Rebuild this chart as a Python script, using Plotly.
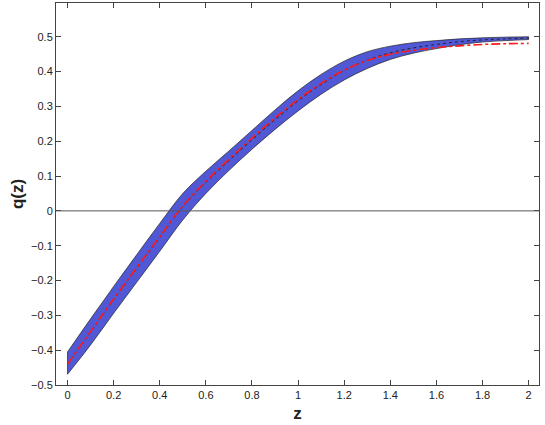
import plotly.graph_objects as go

# redshift grid and read-off values
z = [0.0, 0.1, 0.2, 0.3, 0.4, 0.5, 0.6, 0.7, 0.8, 0.9, 1.0,
     1.1, 1.2, 1.3, 1.4, 1.5, 1.6, 1.7, 1.8, 1.9, 2.0]

q_upper = [-0.405, -0.310, -0.217, -0.126, -0.036, 0.050, 0.114, 0.172, 0.231, 0.290, 0.345,
           0.392, 0.430, 0.457, 0.473, 0.483, 0.489, 0.494, 0.497, 0.499, 0.500]
q_lower = [-0.469, -0.385, -0.294, -0.205, -0.116, -0.026, 0.050, 0.116, 0.177, 0.234, 0.287,
           0.335, 0.376, 0.409, 0.435, 0.453, 0.466, 0.477, 0.485, 0.489, 0.492]
q_mean = [-0.440, -0.347, -0.255, -0.165, -0.076, 0.012, 0.082, 0.144, 0.204, 0.262, 0.316,
          0.363, 0.403, 0.433, 0.454, 0.468, 0.478, 0.486, 0.491, 0.494, 0.496]
q_fit = [-0.440, -0.346, -0.253, -0.163, -0.074, 0.014, 0.085, 0.148, 0.209, 0.267, 0.320,
         0.366, 0.404, 0.432, 0.450, 0.461, 0.469, 0.474, 0.478, 0.480, 0.481]

x_ticks = [0, 0.2, 0.4, 0.6, 0.8, 1, 1.2, 1.4, 1.6, 1.8, 2]
y_ticks = [-0.5, -0.4, -0.3, -0.2, -0.1, 0, 0.1, 0.2, 0.3, 0.4, 0.5]

AXIS = "#444444"
EDGE = "#222222"
FONT = "Liberation Sans, Arial, sans-serif"

fig = go.Figure()

# confidence band: lower edge, then upper edge filled down to it
fig.add_trace(go.Scatter(
    x=z, y=q_lower, mode="lines", line=dict(color=EDGE, width=0.7, shape="spline"),
    hoverinfo="skip", showlegend=False,
))
fig.add_trace(go.Scatter(
    x=z, y=q_upper, mode="lines", fill="tonexty", fillcolor="#5058d6",
    line=dict(color=EDGE, width=0.7, shape="spline"),
    hoverinfo="skip", showlegend=False,
))
# closing edges of the band at both ends
for i in (0, -1):
    fig.add_trace(go.Scatter(
        x=[z[i], z[i]], y=[q_lower[i], q_upper[i]], mode="lines",
        line=dict(color=EDGE, width=0.7), hoverinfo="skip", showlegend=False,
    ))
fig.add_trace(go.Scatter(
    x=z, y=q_mean, mode="lines",
    line=dict(color=EDGE, width=1, dash="dot", shape="spline"),
    showlegend=False,
))
fig.add_trace(go.Scatter(
    x=z, y=q_fit, mode="lines",
    line=dict(color="#ff1a1a", width=1.6, dash="dashdot", shape="spline"),
    showlegend=False,
))
fig.add_hline(y=0, line_color="#555555", line_width=1)

fig.update_layout(
    width=545, height=425,
    paper_bgcolor="white", plot_bgcolor="white",
    margin=dict(l=56, r=6, t=3, b=40),
    font=dict(family=FONT, size=11, color="#222222"),
    showlegend=False,
)
fig.update_xaxes(
    range=[-0.05, 2.045], tickvals=x_ticks, ticktext=[f"{v:g}" for v in x_ticks],
    ticks="inside", ticklen=5, tickcolor=AXIS,
    showline=True, linecolor=AXIS, linewidth=1, mirror="ticks",
    showgrid=False, zeroline=False,
    title=dict(text="<b>z</b>", font=dict(size=17, family=FONT), standoff=6),
)
fig.update_yaxes(
    range=[-0.5, 0.597], tickvals=y_ticks,
    ticktext=[f"{v:g}".replace("-", "\u2212") for v in y_ticks],
    ticks="inside", ticklen=5, tickcolor=AXIS,
    showline=True, linecolor=AXIS, linewidth=1, mirror="ticks",
    showgrid=False, zeroline=False,
    title=dict(text="<b>q(z)</b>", font=dict(size=17, family=FONT), standoff=3),
)

fig.write_html("out.html", config={"displayModeBar": False},
               post_script="document.body.style.margin='0';")
